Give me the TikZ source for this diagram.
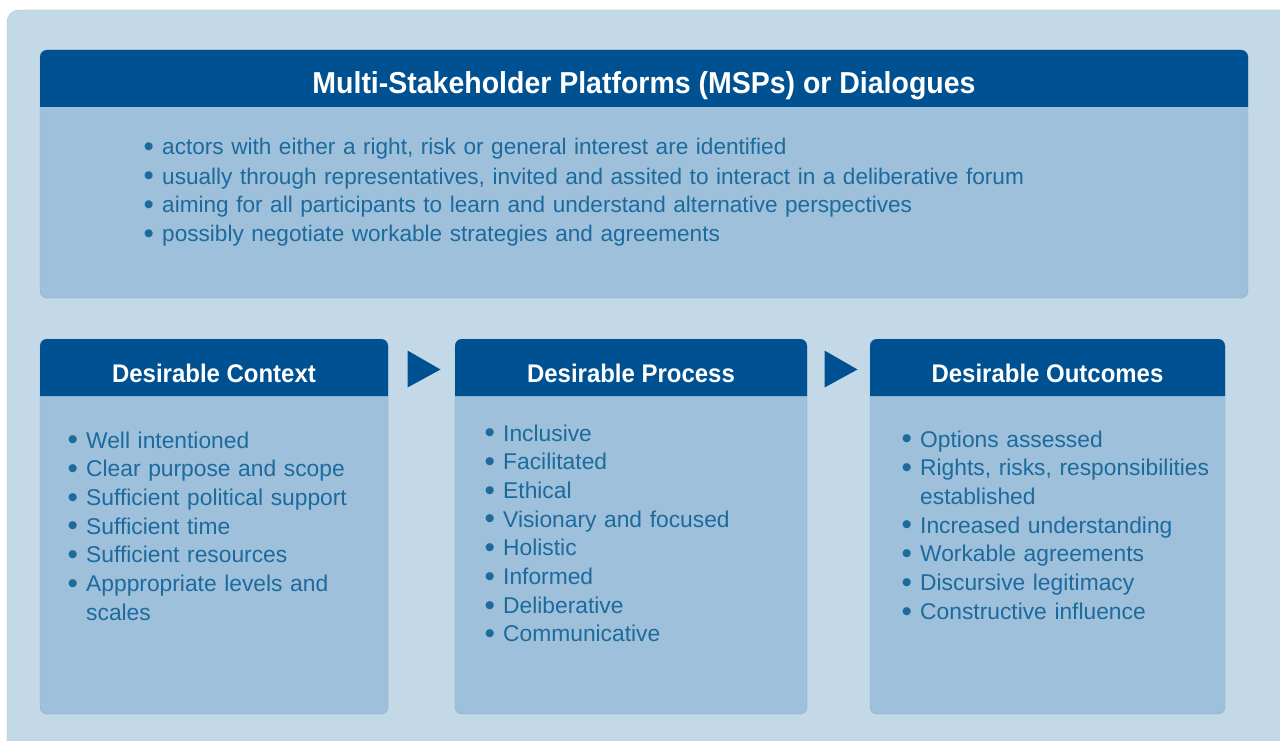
\documentclass[tikz,border=0pt]{standalone}
\usepackage{fontspec}
\setmainfont{Liberation Sans}
\newfontfamily\headfont{Liberation Sans}[FakeStretch=0.94]
\usetikzlibrary{positioning,backgrounds,calc}

\definecolor{hdrblue}{RGB}{0,81,145}
\definecolor{bodyblue}{RGB}{158,192,218}
\definecolor{backblue}{RGB}{196,217,231}
\definecolor{edgeblue}{RGB}{138,170,206}
\definecolor{txtblue}{RGB}{28,106,158}

% bullet hanging left of the item text
\newcommand\bl{\leavevmode\llap{\raisebox{-0.08em}{\scalebox{1.3}{\textbullet}}\hspace{8.3pt}}}

\tikzset{
  head/.style={inner sep=0pt, outer sep=0pt, minimum height=57pt, text=white,
    text height=29pt, text depth=0pt, font=\headfont\bfseries\fontsize{25.5}{30}\selectfont},
  panel/.style={inner sep=0pt, outer sep=0pt},
  items/.style={inner sep=0pt, anchor=base west, text=txtblue, text width=900pt,
    align=left, font=\fontsize{22.8}{28.7}\selectfont},
}

\begin{document}
\begin{tikzpicture}[x=1pt, y=-1pt]
		\useasboundingbox (0,0) rectangle (1280,741);

		% top panel
		\node[head, anchor=north west, minimum width=1208pt, text height=30pt,
			font=\headfont\bfseries\fontsize{30.3}{34}\selectfont] (mspHead) at (40,50)
			{Multi-Stakeholder Platforms (MSPs) or Dialogues};
		\node[panel, minimum width=1208pt, minimum height=191pt, below=0pt of mspHead] (mspBody) {};
		\node[items, font=\fontsize{22.6}{29}\selectfont] (mspList) at (162,155) {%
			\bl actors with either a right, risk or general interest are identified\\
			\bl usually through representatives, invited and assited to interact in a deliberative forum\\
			\bl aiming for all participants to learn and understand alternative perspectives\\
			\bl possibly negotiate workable strategies and agreements};

		% the three stages
		\node[head, anchor=north west, minimum width=348pt] (ctxHead) at (40,339) {Desirable Context};
		\node[head, minimum width=352pt, right=67pt of ctxHead] (procHead) {Desirable Process};
		\node[head, minimum width=355pt, right=63pt of procHead] (outHead) {Desirable Outcomes};

		\node[panel, minimum width=348pt, minimum height=318pt, below=0pt of ctxHead] (ctxBody) {};
		\node[panel, minimum width=352pt, minimum height=318pt, below=0pt of procHead] (procBody) {};
		\node[panel, minimum width=355pt, minimum height=318pt, below=0pt of outHead] (outBody) {};

		\node[items] (ctxList) at (86,448) {%
			\bl Well intentioned\\
			\bl Clear purpose and scope\\
			\bl Sufficient political support\\
			\bl Sufficient time\\
			\bl Sufficient resources\\
			\bl Apppropriate levels and\\
			scales};
		\node[items] (procList) at (503,441) {%
			\bl Inclusive\\
			\bl Facilitated\\
			\bl Ethical\\
			\bl Visionary and focused\\
			\bl Holistic\\
			\bl Informed\\
			\bl Deliberative\\
			\bl Communicative};
		\node[items] (outList) at (920,447) {%
			\bl Options assessed\\
			\bl Rights, risks, responsibilities\\
			established\\
			\bl Increased understanding\\
			\bl Workable agreements\\
			\bl Discursive legitimacy\\
			\bl Constructive influence};

		% arrows between the stages
		\path (ctxHead.east) -- (procHead.west) coordinate[pos=0.5] (arrA);
		\path (procHead.east) -- (outHead.west) coordinate[pos=0.5] (arrB);
		\foreach \a in {arrA,arrB}
			\fill[hdrblue] ($(\a)+(-14,-17)$) -- ($(\a)+(19,2)$) -- ($(\a)+(-14,20)$) -- cycle;

		\begin{scope}[on background layer]
			\fill[backblue, draw=edgeblue!60!backblue, rounded corners=12pt] (7,10) rectangle (1320,780);
			\foreach \p in {msp,ctx,proc,out} {
				\path[fill=bodyblue, draw=edgeblue, rounded corners=7pt]
					(\p Head.north west) -- (\p Body.south west) -- (\p Body.south east)
					-- (\p Head.north east) -- cycle;
				\fill[hdrblue] (\p Head.south west) [rounded corners=7pt] -- (\p Head.north west)
					-- (\p Head.north east) [sharp corners] -- (\p Head.south east) -- cycle;
			}
		\end{scope}
	\end{tikzpicture}
\end{document}
